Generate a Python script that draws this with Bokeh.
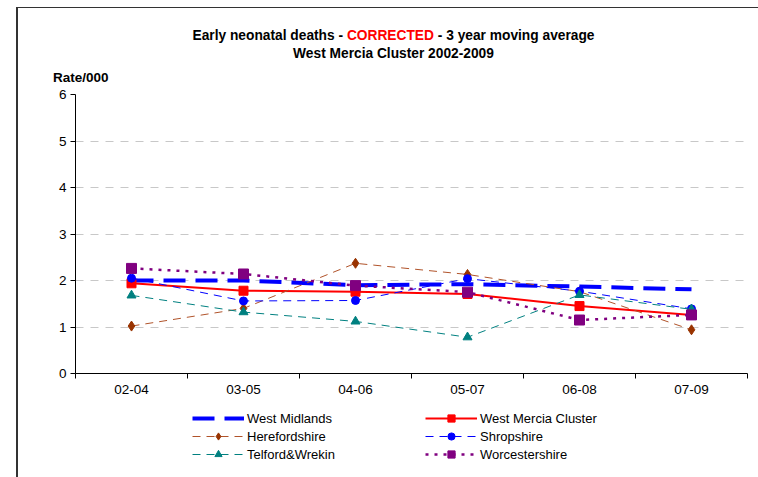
from bokeh.plotting import figure
from bokeh.models import Range1d, FixedTicker, Legend, LegendItem, Div
from bokeh.layouts import column
from bokeh.embed import file_html
from bokeh.resources import INLINE

periods = ["02-04", "03-05", "04-06", "05-07", "06-08", "07-09"]
west_midlands = [2.00, 2.00, 1.90, 1.92, 1.87, 1.81]
west_mercia = [1.94, 1.78, 1.76, 1.71, 1.45, 1.26]
herefordshire = [1.02, 1.40, 2.37, 2.13, 1.76, 0.94]
shropshire = [2.05, 1.56, 1.57, 2.04, 1.77, 1.39]
telford = [1.68, 1.32, 1.12, 0.78, 1.69, 1.38]
worcestershire = [2.26, 2.14, 1.89, 1.75, 1.15, 1.26]
y_ticks = [0, 1, 2, 3, 4, 5, 6]

FONT = "Liberation Sans"
xs = [i + 0.5 for i in range(len(periods))]

series = [
    # name, values, line style, marker style
    ("West Midlands", west_midlands,
     dict(line_color="#0000FF", line_width=4, line_dash="22 10"), None),
    ("West Mercia Cluster", west_mercia,
     dict(line_color="#FF0000", line_width=2),
     dict(marker="square", size=9, fill_color="#FF0000", line_color="#FF0000")),
    ("Herefordshire", herefordshire,
     dict(line_color="#B0532A", line_width=1, line_dash="8 6"),
     dict(marker="diamond", size=10, fill_color="#993300", line_color="#993300")),
    ("Shropshire", shropshire,
     dict(line_color="#0000FF", line_width=1, line_dash="8 6"),
     dict(marker="circle", size=8, fill_color="#0000FF", line_color="#0000FF")),
    ("Telford&Wrekin", telford,
     dict(line_color="#008080", line_width=1, line_dash="8 6"),
     dict(marker="triangle", size=9, fill_color="#008080", line_color="#008080")),
    ("Worcestershire", worcestershire,
     dict(line_color="#800080", line_width=2.5, line_dash="3 6"),
     dict(marker="square", size=10, fill_color="#800080", line_color="#800080")),
]

# ---------------- main chart ----------------
p = figure(width=740, height=314, output_backend="svg", toolbar_location=None,
           x_range=Range1d(0, len(periods)), y_range=Range1d(0, 6),
           min_border_left=57, min_border_right=11, min_border_top=8, min_border_bottom=27)
p.outline_line_color = None
p.background_fill_color = "white"
p.border_fill_color = "white"

p.xaxis.ticker = FixedTicker(ticks=xs, minor_ticks=list(range(len(periods) + 1)))
p.xaxis.major_label_overrides = {x: lab for x, lab in zip(xs, periods)}
p.xaxis.major_tick_out = 0
p.xaxis.major_tick_in = 0
p.xaxis.minor_tick_out = 5
p.xaxis.minor_tick_in = 0
p.xaxis.minor_tick_line_color = "black"
p.xaxis.axis_line_color = "black"
p.xaxis.major_label_text_font = FONT
p.xaxis.major_label_text_font_size = "13.5px"
p.xaxis.major_label_text_color = "black"
p.xaxis.major_label_standoff = 6

p.yaxis.ticker = FixedTicker(ticks=y_ticks, minor_ticks=[])
p.yaxis.major_tick_out = 5
p.yaxis.major_tick_in = 0
p.yaxis.major_tick_line_color = "black"
p.yaxis.axis_line_color = "black"
p.yaxis.major_label_text_font = FONT
p.yaxis.major_label_text_font_size = "13.5px"
p.yaxis.major_label_text_color = "black"
p.yaxis.major_label_standoff = 4

p.xgrid.grid_line_color = None
p.ygrid.grid_line_color = "#c8c8c8"
p.ygrid.grid_line_dash = "8 7"
p.ygrid.grid_line_width = 1

for name, vals, lstyle, mstyle in series:
    p.line(xs, vals, **lstyle)
    if mstyle is not None:
        p.scatter(xs, vals, **mstyle)

# ---------------- legend strip (own canvas, no axes) ----------------
# the same series are drawn here off-range (invisible), only their legend swatches show
lg = figure(width=740, height=77, output_backend="svg", toolbar_location=None,
            x_range=Range1d(0, len(periods)), y_range=Range1d(100, 101),
            x_axis_location=None, y_axis_location=None,
            min_border_left=0, min_border_right=0, min_border_top=0, min_border_bottom=0)
lg.grid.visible = False
lg.outline_line_color = None
lg.background_fill_color = "white"
lg.border_fill_color = "white"

items = []
for name, vals, lstyle, mstyle in series:
    rs = [lg.line(xs, vals, **lstyle)]
    if mstyle is not None:
        rs.append(lg.scatter(xs, vals, **mstyle))
    items.append(LegendItem(label=name, renderers=rs))

def add_legend(its, loc):
    leg = Legend(items=its, location=loc, orientation="vertical",
                 glyph_width=52, glyph_height=18, label_height=18, spacing=0,
                 label_standoff=3, padding=0, margin=0,
                 border_line_color=None, background_fill_alpha=0,
                 label_text_font=FONT, label_text_font_size="13px",
                 label_text_color="black")
    lg.add_layout(leg, "center")

add_legend([items[0], items[2], items[4]], (117, 14))
add_legend([items[1], items[3], items[5]], (350, 14))

# ---------------- title block ----------------
title_html = (
    '<div style="position:relative;width:740px;height:78px;'
    'font-family:\'Liberation Sans\',Arial,sans-serif;font-weight:bold;font-size:13.75px;color:#000;">'
    '<div style="position:absolute;left:0;top:20px;width:751px;text-align:center;line-height:16px;white-space:nowrap;">'
    'Early neonatal deaths - <span style="color:#FF0000;">CORRECTED</span> - 3 year moving average</div>'
    '<div style="position:absolute;left:0;top:38px;width:751px;text-align:center;line-height:16px;white-space:nowrap;">'
    'West Mercia Cluster 2002-2009</div>'
    '<div style="position:absolute;left:35px;top:62px;line-height:16px;white-space:nowrap;font-size:13.5px;">Rate/000</div>'
    '</div>'
)
title_div = Div(text=title_html, width=740, height=78, margin=0)

layout = column(title_div, p, lg, margin=(7, 0, 0, 16), spacing=0,
                styles={"border-left": "2px solid #333333", "border-top": "1px solid #333333"})

open("out.html", "w").write(file_html(layout, INLINE))
